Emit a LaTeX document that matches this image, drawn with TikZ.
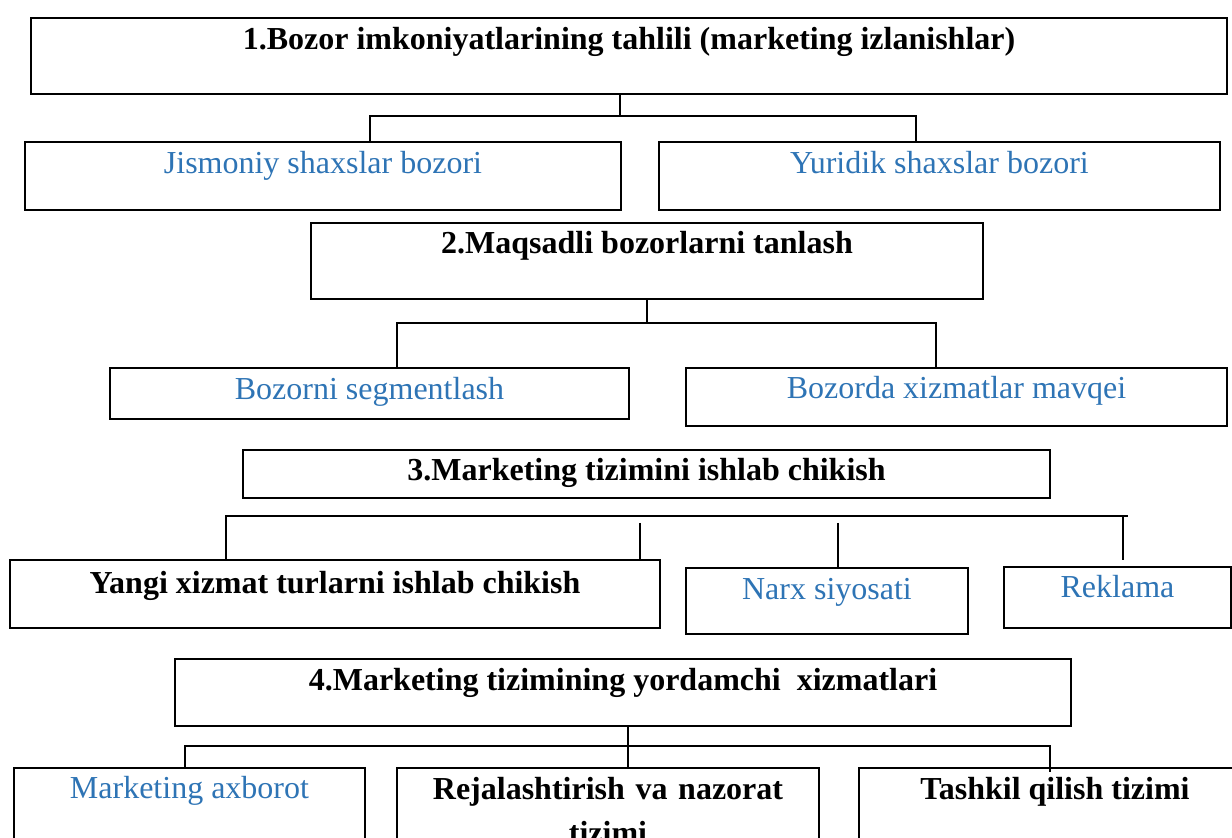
\documentclass[tikz,border=0pt]{standalone}
\usepackage{fontspec}
\setmainfont{Liberation Serif}
\usepackage{xcolor}
\usepackage{tikz}
\definecolor{wordblue}{RGB}{46,116,181}
\tikzset{
    box/.style={rectangle, draw, line width=1pt, inner sep=0pt, anchor=north west, font=\fontsize{16}{22}\selectfont},
    head/.style={box, font=\fontsize{16}{22}\selectfont\bfseries},
    item/.style={box, text=wordblue},
    link/.style={line width=1pt}
}

\begin{document}
\begin{tikzpicture}[x=0.5pt, y=-0.5pt]
            \useasboundingbox (0,0) rectangle (1232,838);
            \clip (0,0) rectangle (1232,838);

            % step 1
            \node (b1) [head, minimum width=598pt, text height=16pt, text depth=22pt] at (30,17) {1.Bozor imkoniyatlarining tahlili (marketing izlanishlar)};
            \node (jis) [item, minimum width=298pt, text height=16pt, text depth=18pt] at (24,141) {Jismoniy shaxslar bozori};
            \node (yur) [item, minimum width=280.5pt, text height=16pt, text depth=18pt] at (658,141) {Yuridik shaxslar bozori};

            % step 2
            \node (b2) [head, minimum width=336pt, text height=15.5pt, text depth=22.5pt] at (310,222) {2.Maqsadli bozorlarni tanlash};
            \node (seg) [item, minimum width=259.5pt, text height=16pt, text depth=9.5pt] at (109,367) {Bozorni segmentlash};
            \node (mav) [item, minimum width=270.5pt, text height=15.5pt, text depth=13.5pt] at (685,367) {Bozorda xizmatlar mavqei};

            % step 3
            \node (b3) [head, minimum width=403.5pt, text height=15.5pt, text depth=8.5pt] at (242,449) {3.Marketing tizimini ishlab chikish};
            \node (yan) [head, minimum width=325pt, text height=17pt, text depth=17pt] at (9,559) {Yangi xizmat turlarni ishlab chikish};
            \node (narx) [item, minimum width=141pt, text height=16pt, text depth=17pt] at (685,567) {Narx siyosati};
            \node (rek) [item, minimum width=113.5pt, text height=15.5pt, text depth=15pt] at (1003,566) {Reklama};

            % step 4
            \node (b4) [head, minimum width=448pt, text height=16pt, text depth=17.5pt] at (174,658) {4.Marketing tizimining yordamchi~ xizmatlari};
            \node (axb) [item, minimum width=175.5pt, text height=15.5pt, text depth=41pt] at (13,767) {Marketing axborot};
            \node (rej) [head, text width=211pt, align=center, text height=16pt, text depth=40.5pt] at (396,767) {Rejalashtirish va nazorat\\tizimi};
            \node (tash) [head, minimum width=196pt, text height=16pt, text depth=40.5pt] at (858,767) {Tashkil qilish tizimi};

            % branch points
            \coordinate (t1) at (620,116);
            \coordinate (bus1w) at (370,116);
            \coordinate (bus1e) at (916,116);
            \coordinate (bus2w) at (397,323);
            \coordinate (bus2e) at (936,323);
            \coordinate (bus3w) at (226,516);
            \coordinate (bus3e) at (1128,516);
            \coordinate (k1) at (640,523);
            \coordinate (k2) at (838,523);
            \coordinate (k3) at (1123,560);
            \coordinate (t4) at (628,769);
            \coordinate (bus4w) at (185,746);
            \coordinate (bus4e) at (1050,746);
            \coordinate (k4) at (1050,772);

            \draw[link] (t1 |- b1.south) -- (t1);
            \draw[link] (bus1w |- jis.north) |- (bus1e) -- (bus1e |- yur.north);

            \draw[link] (b2.south) -- (b2.south |- bus2w);
            \draw[link] (bus2w |- seg.north) |- (bus2e) -- (bus2e |- mav.north);

            \draw[link] (bus3w |- yan.north) |- (bus3e);
            \draw[link] (k1) -- (k1 |- yan.north);
            \draw[link] (k2) -- (k2 |- narx.north);
            \draw[link] (k3 |- bus3w) -- (k3);

            \draw[link] (t4 |- b4.south) -- (t4);
            \draw[link] (bus4w |- axb.north) |- (bus4e) -- (k4);
        \end{tikzpicture}
\end{document}
